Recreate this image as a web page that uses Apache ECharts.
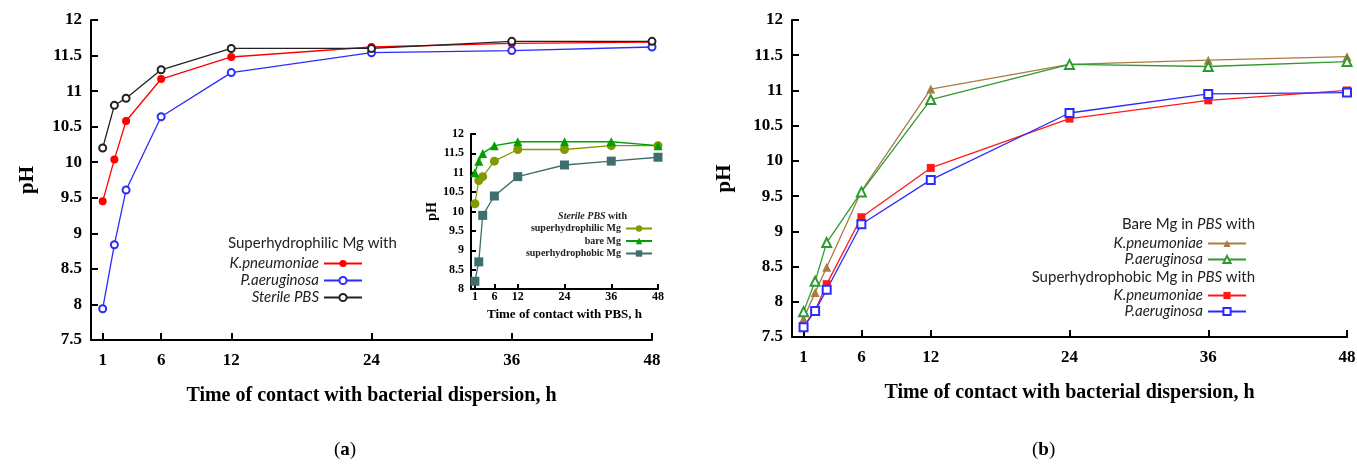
<!DOCTYPE html>
<html lang="en">
<head>
<meta charset="UTF-8">
<script src="https://cdn.jsdelivr.net/npm/echarts@6/dist/echarts.min.js"></script>
<style>
  html, body { margin: 0; padding: 0; background: #fff; }
  #main { width: 1357px; height: 465px; }
</style>
</head>
<body>
<div id="main"></div>
<script type="text/javascript">
// time points, h
var hours = [1, 2, 3, 6, 12, 24, 36, 48];
var hourTicks = [1, 6, 12, 24, 36, 48];

// (a) superhydrophilic Mg
var aKpn = [9.45, 10.04, 10.58, 11.17, 11.48, 11.62, 11.67, 11.69];
var aPae = [7.94, 8.84, 9.61, 10.64, 11.26, 11.54, 11.57, 11.62];
var aPbs = [10.2, 10.8, 10.9, 11.3, 11.6, 11.6, 11.7, 11.7];

// (a) inset, sterile PBS
var insPhilic = [10.2, 10.8, 10.9, 11.3, 11.6, 11.6, 11.7, 11.7];
var insBare = [11.0, 11.3, 11.5, 11.7, 11.8, 11.8, 11.8, 11.7];
var insPhobic = [8.2, 8.7, 9.9, 10.4, 10.9, 11.2, 11.3, 11.4];

// (b) bare and superhydrophobic Mg
var bBareKpn = [7.76, 8.13, 8.49, 9.57, 11.02, 11.37, 11.43, 11.48];
var bBarePae = [7.86, 8.29, 8.84, 9.56, 10.87, 11.37, 11.34, 11.41];
var bPhobKpn = [7.65, 7.88, 8.25, 9.20, 9.90, 10.60, 10.86, 11.0];
var bPhobPae = [7.64, 7.87, 8.17, 9.10, 9.73, 10.68, 10.95, 10.97];

function pairs(vals) {
    return hours.map(function (h, i) { return [h, vals[i]]; });
}

var serif = 'Liberation Serif';
var sans = 'Lato';

function xAx(gi, name, fs, lfs, gap, margin, tick) {
    return {
        type: 'value', gridIndex: gi, min: 0, max: 48,
        name: name, nameLocation: 'middle', nameGap: gap,
        nameTextStyle: { fontFamily: serif, fontWeight: 'bold', fontSize: fs, color: '#000' },
        axisLine: { show: true, onZero: false, lineStyle: { color: '#000', width: 2 } },
        axisTick: { show: true, inside: true, length: tick, customValues: hourTicks, lineStyle: { color: '#000', width: 2 } },
        axisLabel: { customValues: hourTicks, margin: margin, fontFamily: serif, fontWeight: 'bold', fontSize: lfs, color: '#000' },
        splitLine: { show: false }
    };
}

function yAx(gi, min, fs, lfs, gap, margin, tick) {
    return {
        type: 'value', gridIndex: gi, min: min, max: 12, interval: 0.5,
        name: 'pH', nameLocation: 'middle', nameGap: gap,
        nameTextStyle: { fontFamily: serif, fontWeight: 'bold', fontSize: fs, color: '#000' },
        axisLine: { show: true, onZero: false, lineStyle: { color: '#000', width: 2 } },
        axisTick: { show: true, inside: true, length: tick, lineStyle: { color: '#000', width: 2 } },
        axisLabel: { margin: margin, fontFamily: serif, fontWeight: 'bold', fontSize: lfs, color: '#000' },
        splitLine: { show: false }
    };
}

function line(name, gi, vals, color, symbol, size, lw) {
    return {
        name: name, type: 'line', xAxisIndex: gi, yAxisIndex: gi,
        data: pairs(vals), symbol: symbol, symbolSize: size,
        lineStyle: { color: color, width: lw || 1.3 },
        itemStyle: { color: color, borderWidth: 1.5 },
        animation: false
    };
}

function strip(n) { return n.split(':')[1]; }

function legendBox(names, right, top, opts) {
    var l = {
        orient: 'vertical', align: 'right', right: right, top: top, padding: 0,
        itemWidth: 38, itemHeight: 9, itemGap: 1,
        formatter: strip,
        textStyle: { fontFamily: sans, fontStyle: 'italic', fontSize: 15, lineHeight: 15, color: '#222' },
        data: names
    };
    for (var k in opts) l[k] = opts[k];
    return l;
}

var myChart = echarts.init(document.getElementById('main'));

var option = {
    backgroundColor: '#fff',
    grid: [
        { left: 91, top: 20, width: 561, height: 320, outerBoundsMode: 'none' },
        { left: 792, top: 20, width: 555, height: 317, outerBoundsMode: 'none' },
        { left: 471, top: 134, width: 187, height: 155, outerBoundsMode: 'none' }
    ],
    xAxis: [
        xAx(0, 'Time of contact with bacterial dispersion, h', 20, 17, 46, 12, 7),
        xAx(1, 'Time of contact with bacterial dispersion, h', 20, 17, 46, 12, 7),
        xAx(2, 'Time of contact with PBS, h', 13, 12, 19, 2, 5)
    ],
    yAxis: [
        yAx(0, 7.5, 21, 17, 53, 9, 7),
        yAx(1, 7.5, 21, 17, 57, 9, 7),
        yAx(2, 8, 14, 12, 31, 7, 5)
    ],
    legend: [
        legendBox(['a:K.pneumoniae', 'a:P.aeruginosa', 'a:Sterile PBS'], 994, 256, { itemGap: 2 }),
        legendBox(['b:K.pneumoniae', 'b:P.aeruginosa'], 110, 236, {}),
        legendBox(['c:K.pneumoniae', 'c:P.aeruginosa'], 110, 288, {}),
        legendBox(['i:superhydrophilic Mg', 'i:bare Mg', 'i:superhydrophobic Mg'], 704, 223, {
            itemWidth: 26, itemHeight: 8, itemGap: 1.5,
            textStyle: { fontFamily: serif, fontWeight: 'bold', fontSize: 10, lineHeight: 11, color: '#222' }
        })
    ],
    graphic: [
        {
            type: 'text', left: 228, top: 236,
            style: { text: 'Superhydrophilic Mg with', font: '15px ' + sans, fill: '#222' }
        },
        {
            type: 'text', right: 102, top: 217,
            style: {
                text: 'Bare Mg in {i|PBS} with', font: '15px ' + sans, fill: '#222',
                rich: { i: { fontFamily: sans, fontStyle: 'italic', fontSize: 15 } }
            }
        },
        {
            type: 'text', right: 102, top: 270,
            style: {
                text: 'Superhydrophobic Mg in {i|PBS} with', font: '15px ' + sans, fill: '#222',
                rich: { i: { fontFamily: sans, fontStyle: 'italic', fontSize: 15 } }
            }
        },
        {
            type: 'text', right: 730, top: 211,
            style: {
                text: '{i|Sterile PBS} with', font: 'bold 10px ' + serif, fill: '#222',
                rich: { i: { fontFamily: serif, fontStyle: 'italic', fontWeight: 'bold', fontSize: 10 } }
            }
        },
        {
            type: 'text', left: 334, top: 441,
            style: {
                text: '({b|a})', font: '19px ' + serif, fill: '#000',
                rich: { b: { fontFamily: serif, fontWeight: 'bold', fontSize: 19 } }
            }
        },
        {
            type: 'text', left: 1032, top: 441,
            style: {
                text: '({b|b})', font: '19px ' + serif, fill: '#000',
                rich: { b: { fontFamily: serif, fontWeight: 'bold', fontSize: 19 } }
            }
        }
    ],
    series: [
        line('a:K.pneumoniae', 0, aKpn, '#ff0000', 'circle', 8),
        line('a:P.aeruginosa', 0, aPae, '#2b2bff', 'emptyCircle', 7),
        line('a:Sterile PBS', 0, aPbs, '#222222', 'emptyCircle', 7),
        line('b:K.pneumoniae', 1, bBareKpn, '#a87c42', 'triangle', 9),
        line('b:P.aeruginosa', 1, bBarePae, '#2f9a2f', 'emptyTriangle', 9),
        line('c:K.pneumoniae', 1, bPhobKpn, '#ff1a1a', 'rect', 8),
        line('c:P.aeruginosa', 1, bPhobPae, '#2b2bff', 'emptyRect', 8),
        line('i:superhydrophilic Mg', 2, insPhilic, '#829a00', 'circle', 9),
        line('i:bare Mg', 2, insBare, '#00a000', 'triangle', 9),
        line('i:superhydrophobic Mg', 2, insPhobic, '#3f6e6e', 'rect', 9)
    ]
};

myChart.setOption(option);
</script>
</body>
</html>
